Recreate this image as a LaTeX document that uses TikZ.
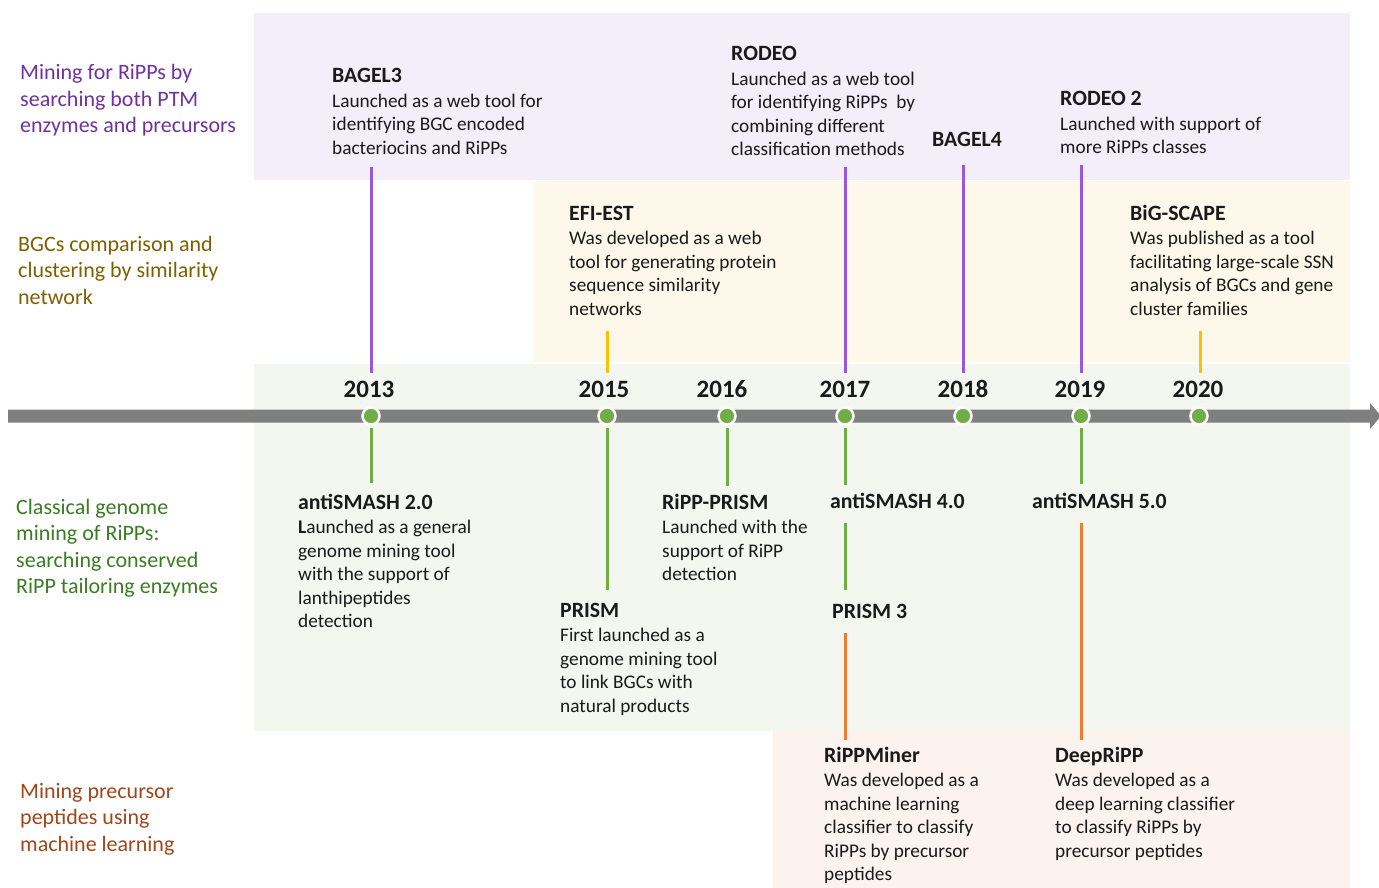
\documentclass[tikz,border=0pt]{standalone}
\usepackage{fontspec}
\setmainfont{Carlito}
\definecolor{bgpur}{HTML}{F2EEFA}
\definecolor{bgcre}{HTML}{FEF8EB}
\definecolor{bggrn}{HTML}{F3F7EF}
\definecolor{bgpea}{HTML}{FCF3EE}
\definecolor{lnpur}{HTML}{9B57DC}
\definecolor{lnyel}{HTML}{FFC000}
\definecolor{lngrn}{HTML}{70AD47}
\definecolor{lnora}{HTML}{ED7D31}
\definecolor{axgray}{HTML}{7F7F7F}
\definecolor{txt}{HTML}{1A1A1A}
\definecolor{lbpur}{HTML}{7030A0}
\definecolor{lbgold}{HTML}{7F6000}
\definecolor{lbgrn}{HTML}{3A7D22}
\definecolor{lbbrn}{HTML}{A0461A}
\newcommand{\tlblock}[2]{\fontsize{19.3}{23.5}\selectfont\begin{tabular}[t]{@{}l@{}}{\fontsize{21.8}{23.5}\selectfont\bfseries #1}\\[1pt] #2\end{tabular}}
\newcommand{\tltitle}[1]{\fontsize{21.8}{23.5}\selectfont\bfseries #1}
\newcommand{\tllabel}[1]{\fontsize{22}{26.5}\selectfont\begin{tabular}[t]{@{}l@{}}#1\end{tabular}}
\begin{document}
\begin{tikzpicture}[x=1pt,y=-1pt,
  blk/.style={anchor=base west, inner sep=0, text=txt},
  yr/.style={anchor=base, inner sep=0, text=txt, font=\fontsize{25}{25}\selectfont\bfseries},
  lab/.style={anchor=base west, inner sep=0},
  vpur/.style={draw=lnpur, line width=3pt},
  vyel/.style={draw=lnyel, line width=3pt},
  vgrn/.style={draw=lngrn, line width=3pt},
  vora/.style={draw=lnora, line width=3pt},
  dot/.style={circle, fill=lngrn, draw=white, line width=2.5pt, minimum size=17pt, inner sep=0}]
\useasboundingbox (0,0) rectangle (1379,888);
% backgrounds
\fill[bgpur] (254,13) rectangle (1350,180);
\fill[bgcre] (534,181) rectangle (1350,362);
\fill[bggrn] (254,364) rectangle (1350,731);
\fill[bgpea] (773,731) rectangle (1350,888);
% left labels
\node[lab, text=lbpur] (l1) at (20,80) {\tllabel{Mining for RiPPs by\\searching both PTM\\enzymes and precursors}};
\node[lab, text=lbgold] (l2) at (18,251) {\tllabel{BGCs comparison and\\clustering by similarity\\network}};
\node[lab, text=lbgrn] (l3) at (16,514) {\tllabel{Classical genome\\mining of RiPPs:\\searching conserved\\RiPP tailoring enzymes}};
\node[lab, text=lbbrn] (l4) at (20,798) {\tllabel{Mining precursor\\peptides using\\machine learning}};
% axis arrow
\fill[axgray] (8,409.5) -- (1370,409.5) -- (1370,403) -- (1381,416) -- (1370,429) -- (1370,422.5) -- (8,422.5) -- cycle;
% coordinates of line ends
\foreach \n/\x in {a/371,b/607,c/727,d/845,e/963,f/1081,g/1199}{
  \coordinate (top\n) at (\x,373);
  \coordinate (bot\n) at (\x,428);
}
% upper connectors
\coordinate (bagel3) at (371,167);
\coordinate (rodeo) at (845,167);
\coordinate (bagel4) at (963,165);
\coordinate (rodeo2) at (1081,165);
\coordinate (efi) at (607,331);
\coordinate (big) at (1200,331);
\coordinate (bigend) at (1200,373);
\draw[vpur] (bagel3) -- (topa);
\draw[vpur] (rodeo) -- (topd);
\draw[vpur] (bagel4) -- (tope);
\draw[vpur] (rodeo2) -- (topf);
\draw[vyel] (efi) -- (topb);
\draw[vyel] (big) -- (bigend);
% lower connectors
\coordinate (as2) at (371,483);
\coordinate (prism) at (607,590);
\coordinate (rprism) at (727,486);
\coordinate (as4) at (845,485);
\coordinate (as4b) at (845,523);
\coordinate (prism3) at (845,590);
\coordinate (as5) at (1081,484);
\coordinate (p3b) at (845,633);
\coordinate (rmin) at (845,740);
\coordinate (as5b) at (1081,523);
\coordinate (drip) at (1081,740);
\draw[vgrn] (bota) -- (as2);
\draw[vgrn] (botb) -- (prism);
\draw[vgrn] (botc) -- (rprism);
\draw[vgrn] (botd) -- (as4);
\draw[vgrn] (as4b) -- (prism3);
\draw[vgrn] (botf) -- (as5);
\draw[vora] (p3b) -- (rmin);
\draw[vora] (as5b) -- (drip);
% dots
\foreach \n/\x in {a/371,b/607,c/727,d/845,e/963,f/1081,g/1199}{
  \node[dot] (dot\n) at (\x,416) {};
}
% years
\node[yr] (y13) at (369,397) {2013};
\node[yr] (y15) at (604,397) {2015};
\node[yr] (y16) at (722,397) {2016};
\node[yr] (y17) at (845,397) {2017};
\node[yr] (y18) at (963,397) {2018};
\node[yr] (y19) at (1080,397) {2019};
\node[yr] (y20) at (1198,397) {2020};
% blocks
\node[blk] (nbagel3) at (332,83) {\tlblock{BAGEL3}{Launched as a web tool for\\identifying BGC encoded\\bacteriocins and RiPPs}};
\node[blk] (nrodeo) at (731,61) {\tlblock{RODEO}{Launched as a web tool\\for identifying RiPPs\ \ by\\combining different\\classification methods}};
\node[blk] (nbagel4) at (932,147) {\tltitle{BAGEL4}};
\node[blk] (nrodeo2) at (1060,106) {\tlblock{RODEO 2}{Launched with support of\\more RiPPs classes}};
\node[blk] (nefi) at (569,220) {\tlblock{EFI-EST}{Was developed as a web\\tool for generating protein\\sequence similarity\\networks}};
\node[blk] (nbig) at (1130,220) {\tlblock{BiG-SCAPE}{Was published as a tool\\facilitating large-scale SSN\\analysis of BGCs and gene\\cluster families}};
\node[blk] (nas2) at (298,509) {\tlblock{antiSMASH 2.0}{\textbf{L}aunched as a general\\genome mining tool\\with the support of\\lanthipeptides\\detection}};
\node[blk] (nrprism) at (662,509) {\tlblock{RiPP-PRISM}{Launched with the\\support of RiPP\\detection}};
\node[blk] (nas4) at (830,508) {\tltitle{antiSMASH 4.0}};
\node[blk] (nas5) at (1032,508) {\tltitle{antiSMASH 5.0}};
\node[blk] (nprism) at (560,617) {\tlblock{PRISM}{First launched as a\\genome mining tool\\to link BGCs with\\natural products}};
\node[blk] (nprism3) at (832,618) {\tltitle{PRISM 3}};
\node[blk] (nrmin) at (824,762) {\tlblock{RiPPMiner}{Was developed as a\\machine learning\\classifier to classify\\RiPPs by precursor\\peptides}};
\node[blk] (ndrip) at (1055,762) {\tlblock{DeepRiPP}{Was developed as a\\deep learning classifier\\to classify RiPPs by\\precursor peptides}};
\end{tikzpicture}
\end{document}
